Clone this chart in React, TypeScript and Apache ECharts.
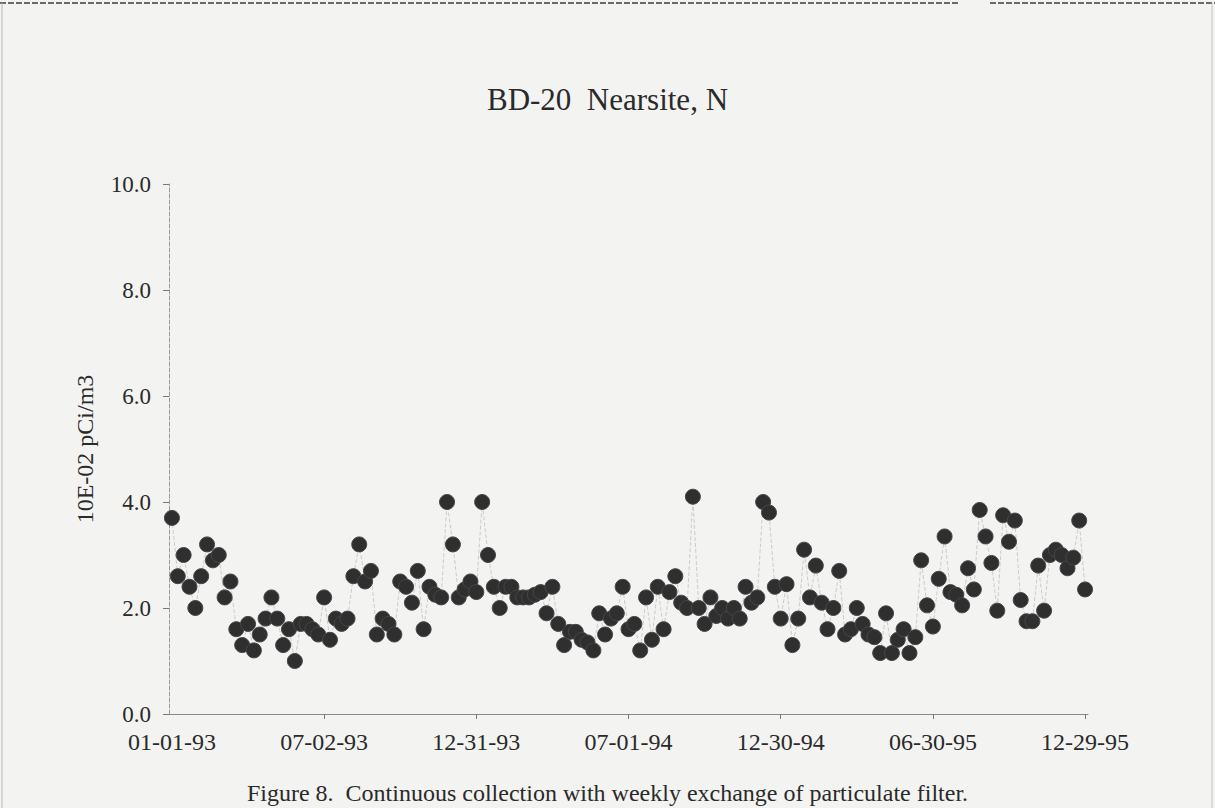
import React, { useEffect, useRef } from "react";
import * as echarts from "echarts";

const TITLE = "BD-20  Nearsite, N";
const Y_NAME = "10E-02 pCi/m3";
const CAPTION = "Figure 8.  Continuous collection with weekly exchange of particulate filter.";
const START_DATE = "1993-01-01";
const TICK_LABELS = ["01-01-93", "07-02-93", "12-31-93", "07-01-94", "12-30-94", "06-30-95", "12-29-95"];
const Y_TICKS = [0, 2, 4, 6, 8, 10];

const VALUES = [
  3.7, 2.6, 3.0, 2.4, 2.0, 2.6, 3.2, 2.9, 3.0, 2.2,
  2.5, 1.6, 1.3, 1.7, 1.2, 1.5, 1.8, 2.2, 1.8, 1.3,
  1.6, 1.0, 1.7, 1.7, 1.6, 1.5, 2.2, 1.4, 1.8, 1.7,
  1.8, 2.6, 3.2, 2.5, 2.7, 1.5, 1.8, 1.7, 1.5, 2.5,
  2.4, 2.1, 2.7, 1.6, 2.4, 2.25, 2.2, 4.0, 3.2, 2.2,
  2.35, 2.5, 2.3, 4.0, 3.0, 2.4, 2.0, 2.4, 2.4, 2.2,
  2.2, 2.2, 2.25, 2.3, 1.9, 2.4, 1.7, 1.3, 1.55, 1.55,
  1.4, 1.35, 1.2, 1.9, 1.5, 1.8, 1.9, 2.4, 1.6, 1.7,
  1.2, 2.2, 1.4, 2.4, 1.6, 2.3, 2.6, 2.1, 2.0, 4.1,
  2.0, 1.7, 2.2, 1.85, 2.0, 1.8, 2.0, 1.8, 2.4, 2.1,
  2.2, 4.0, 3.8, 2.4, 1.8, 2.45, 1.3, 1.8, 3.1, 2.2,
  2.8, 2.1, 1.6, 2.0, 2.7, 1.5, 1.6, 2.0, 1.7, 1.5,
  1.45, 1.15, 1.9, 1.15, 1.4, 1.6, 1.15, 1.45, 2.9, 2.05,
  1.65, 2.55, 3.35, 2.3, 2.25, 2.05, 2.75, 2.35, 3.85, 3.35,
  2.85, 1.95, 3.75, 3.25, 3.65, 2.15, 1.75, 1.75, 2.8, 1.95,
  3.0, 3.1, 3.0, 2.75, 2.95, 3.65, 2.35,
];

function weeklyCategories(start: string, count: number): string[] {
  const base = new Date(start + "T00:00:00Z").getTime();
  const out: string[] = [];
  for (let i = 0; i < count; i++) {
    const d = new Date(base + i * 7 * 86400000);
    const mm = String(d.getUTCMonth() + 1).padStart(2, "0");
    const dd = String(d.getUTCDate()).padStart(2, "0");
    const yy = String(d.getUTCFullYear() % 100).padStart(2, "0");
    out.push(`${mm}-${dd}-${yy}`);
  }
  return out;
}

const CATEGORIES = weeklyCategories(START_DATE, VALUES.length);

const FONT = "'Liberation Serif', 'DejaVu Serif', serif";
const INK = "#2a2a2a";

export default function App() {
  const ref = useRef<HTMLDivElement>(null);
  useEffect(() => {
    if (!ref.current) return;
    const chart = echarts.init(ref.current, undefined, { renderer: "svg" });
    const labelSet = new Set(TICK_LABELS);
    chart.setOption({
      animation: false,
      backgroundColor: "#f3f3f1",
      title: {
        text: TITLE,
        left: "center",
        top: 79,
        textStyle: { fontFamily: FONT, fontSize: 31, fontWeight: "normal", color: INK },
      },
      grid: { left: 169, right: 127, top: 184, bottom: 94 },
      xAxis: {
        type: "category",
        data: CATEGORIES,
        boundaryGap: true,
        axisLine: { lineStyle: { color: "#8a8a8a", width: 1 } },
        axisTick: {
          show: true,
          alignWithLabel: true,
          length: 5,
          interval: (i: number, v: string) => labelSet.has(v) && i > 0,
          lineStyle: { color: "#777" },
        },
        axisLabel: {
          interval: (i: number, v: string) => labelSet.has(v),
          margin: 16,
          fontFamily: FONT,
          fontSize: 24,
          color: INK,
        },
        splitLine: { show: false },
      },
      yAxis: {
        type: "value",
        min: Y_TICKS[0],
        max: Y_TICKS[Y_TICKS.length - 1],
        interval: 2,
        name: Y_NAME,
        nameLocation: "middle",
        nameGap: 72,
        nameTextStyle: { fontFamily: FONT, fontSize: 24, color: INK },
        axisLine: { show: true, lineStyle: { color: "#9a9a9a", width: 1, type: "dashed" } },
        axisTick: { show: true, length: 6, lineStyle: { color: "#777" } },
        axisLabel: {
          formatter: (v: number) => v.toFixed(1),
          margin: 18,
          fontFamily: FONT,
          fontSize: 23,
          color: INK,
        },
        splitLine: { show: false },
      },
      series: [
        {
          type: "line",
          data: VALUES,
          symbol: "circle",
          symbolSize: 15,
          showSymbol: true,
          showAllSymbol: true,
          lineStyle: { color: "#cbcbcb", width: 1, type: "dashed" },
          itemStyle: { color: "#2f2f2f", borderColor: "#474747", borderWidth: 1 },
          z: 3,
        },
      ],
      graphic: [
        { type: "line", shape: { x1: 0, y1: 3, x2: 960, y2: 3 }, style: { stroke: "#6a6a6a", lineWidth: 2, lineDash: [6, 2] } },
        { type: "line", shape: { x1: 990, y1: 3, x2: 1215, y2: 3 }, style: { stroke: "#6a6a6a", lineWidth: 2, lineDash: [6, 2] } },
        { type: "line", shape: { x1: 2, y1: 3, x2: 2, y2: 808 }, style: { stroke: "#b8b8b8", lineWidth: 1 } },
        { type: "line", shape: { x1: 1212, y1: 3, x2: 1212, y2: 808 }, style: { stroke: "#c4c4c4", lineWidth: 1 } },
        {
          type: "text",
          left: "center",
          top: 781,
          style: { text: CAPTION, fontFamily: FONT, fontSize: 24, fill: INK },
        },
      ],
    });
    return () => chart.dispose();
  }, []);
  return <div ref={ref} style={{ position: "fixed", left: 0, top: 0, width: 1215, height: 808 }} />;
}
